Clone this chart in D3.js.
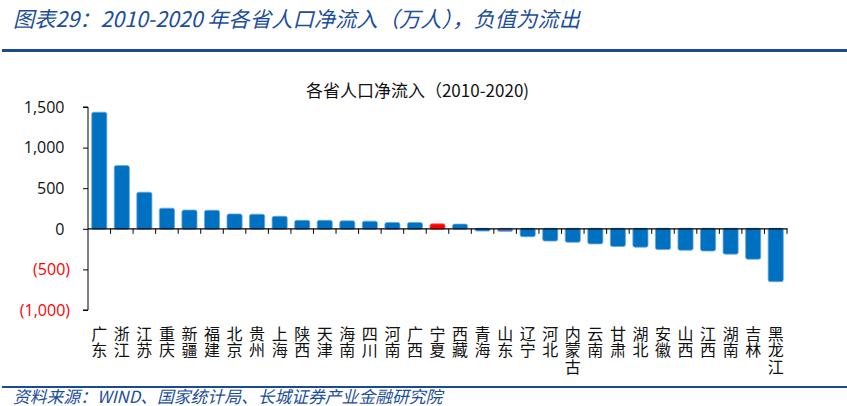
<!DOCTYPE html>
<html><head><meta charset="utf-8">
<script src="https://cdn.jsdelivr.net/npm/d3@7"></script>
<style>
html,body{margin:0;padding:0;background:#fff;}
svg{display:block;}
</style></head>
<body>
<svg id="c" width="847" height="406"></svg>
<script>
const provinces = ["广东","浙江","江苏","重庆","新疆","福建","北京","贵州","上海","陕西","天津","海南","四川","河南","广西","宁夏","西藏","青海","山东","辽宁","河北","内蒙古","云南","甘肃","湖北","安徽","山西","江西","湖南","吉林","黑龙江"];
const netInflow = [1430,772,445,248,225,222,177,174,148,98,98,92,88,72,72,55,52,-22,-28,-92,-145,-160,-180,-212,-220,-250,-258,-268,-306,-368,-645];
const highlightRed = ["宁夏"];
const highlightLight = ["山东"];
const yTicks = [1500,1000,500,0,-500,-1000];
const titleText = "图表29：2010-2020 年各省人口净流入（万人），负值为流出";
const chartTitle = "各省人口净流入（2010-2020)";
const sourceText = "资料来源：WIND、国家统计局、长城证券产业金融研究院";

const svg = d3.select("#c");
const cjk = "'Noto Sans CJK SC','Noto Sans',sans-serif";
const blue = "#1C4E9B";

// header
svg.append("text").attr("x",13).attr("y",27)
  .attr("font-family",cjk).attr("font-size",21.3).attr("font-style","italic")
  .attr("fill",blue).text(titleText);
svg.append("rect").attr("x",2).attr("y",49).attr("width",845).attr("height",3).attr("fill","#1A4A96");

// chart title
svg.append("text").attr("x",417.5).attr("y",97).attr("text-anchor","middle")
  .attr("font-family",cjk).attr("font-size",17).attr("fill","#111").text(chartTitle);

const x = d3.scaleBand().domain(provinces).range([88,787]).paddingInner(0.33).paddingOuter(0.165);
const y = d3.scaleLinear().domain([-1000,1500]).range([310,107]);

// y axis
const yAxis = d3.axisLeft(y).tickValues(yTicks).tickSize(5).tickFormat("");
const gy = svg.append("g").attr("transform","translate(88,0)").call(yAxis);
gy.select(".domain").attr("stroke","#000").attr("d",`M-5,${y(1500)}H0V${y(-1000)}H-5`);
gy.selectAll(".tick line").attr("stroke","#000");

// y labels (accounting format)
svg.append("g").selectAll("text").data(yTicks).join("text")
  .attr("x",d=>d<0?70:64.5).attr("y",d=>y(d)).attr("dy","0.36em")
  .attr("text-anchor","end")
  .attr("font-family","'Open Sans',sans-serif").attr("font-size",16)
  .attr("fill",d=>d<0?"#FF0000":"#111")
  .text(d=>{const s=d3.format(",")(Math.abs(d));return d<0?"("+s+")":s;});

// bars
svg.append("g").selectAll("rect").data(provinces).join("rect")
  .attr("x",d=>x(d))
  .attr("width",x.bandwidth())
  .attr("y",(d,i)=>Math.min(y(0),y(netInflow[i]))-0.5)
  .attr("height",(d,i)=>Math.abs(y(netInflow[i])-y(0))+1)
  .attr("rx",2).attr("ry",2)
  .attr("fill",d=>highlightRed.includes(d)?"#FF0000":highlightLight.includes(d)?"#4B72C2":"#0070C0")
  .attr("stroke",d=>highlightRed.includes(d)?"#FF6666":highlightLight.includes(d)?"#8DA6DA":"#66A9E0")
  .attr("stroke-width",0.8);

// zero axis line with boundary ticks
const step = x.step();
const boundaries = provinces.map(d=>x(d)+x.bandwidth()+step*x.paddingInner()/2);
const gx = svg.append("g");
gx.append("line").attr("x1",88).attr("x2",787.5).attr("y1",y(0)).attr("y2",y(0))
  .attr("stroke","#000").attr("stroke-width",1.2);
gx.selectAll("line.tk").data(boundaries).join("line").attr("class","tk")
  .attr("x1",d=>d).attr("x2",d=>d).attr("y1",y(0)).attr("y2",y(0)+5)
  .attr("stroke","#000");

// category labels, vertical writing mode
svg.append("g").selectAll("text").data(provinces).join("text")
  .attr("font-family",cjk).attr("font-size",16).attr("fill","#111")
  .style("writing-mode","vertical-rl").style("text-orientation","upright")
  .style("letter-spacing","0.7px")
  .attr("text-anchor","start")
  .attr("x",d=>x(d)+x.bandwidth()/2)
  .attr("y",325.5)
  .text(d=>d);

// footer
svg.append("rect").attr("x",2).attr("y",386).attr("width",845).attr("height",2).attr("fill","#1A4A96");
svg.append("text").attr("x",13).attr("y",402.5)
  .attr("font-family",cjk).attr("font-size",16.8).attr("font-style","italic")
  .attr("fill",blue).text(sourceText);
</script>
</body></html>
